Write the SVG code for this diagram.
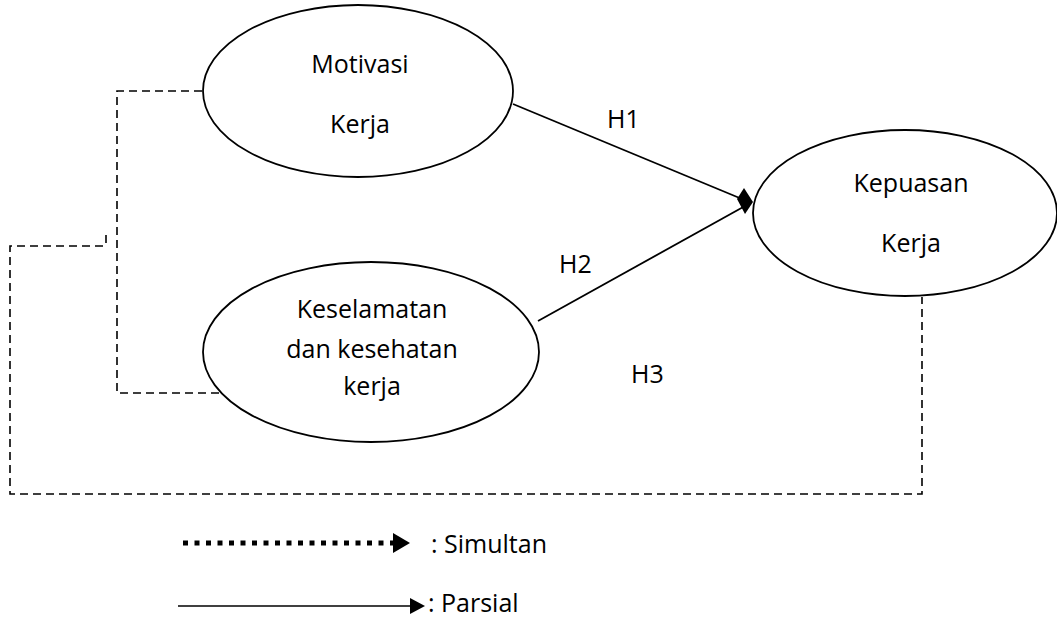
<svg xmlns="http://www.w3.org/2000/svg" width="1057" height="619" viewBox="0 0 1057 619">
<style>
.node{fill:#fff;stroke:#000;stroke-width:1.8}
.t{font-family:"Open Sans","Noto Sans",sans-serif;font-size:25px;fill:#000;text-anchor:middle}
.l{font-family:"Open Sans","Noto Sans",sans-serif;font-size:25px;fill:#000}
.dash{fill:none;stroke:#000;stroke-width:1.6;stroke-dasharray:8 5}
.solid{fill:none;stroke:#000;stroke-width:1.8}
</style>
<rect width="1057" height="619" fill="#fff"/>
<g id="connectors">
<path class="dash" d="M202,91 H117 V393 H226"/>
<path class="dash" d="M103,246 H10 V494 H922 V297"/>
<line x1="106" y1="235" x2="106" y2="243" stroke="#000" stroke-width="1.6"/>
<line class="solid" x1="513" y1="104" x2="742" y2="199"/>
<line class="solid" x1="538" y1="321" x2="745" y2="206"/>
<polygon points="737,199 744,188 753,202 745,214" fill="#000"/>
</g>
<g id="motivasi">
<ellipse class="node" cx="358" cy="91" rx="155" ry="86"/>
<text class="t" x="360" y="73">Motivasi</text>
<text class="t" x="360" y="133">Kerja</text>
</g>
<g id="keselamatan">
<ellipse class="node" cx="371" cy="352" rx="168" ry="90"/>
<text class="t" x="372" y="318">Keselamatan</text>
<text class="t" x="372" y="358">dan kesehatan</text>
<text class="t" x="372" y="395">kerja</text>
</g>
<g id="kepuasan">
<ellipse class="node" cx="905" cy="213" rx="152" ry="83"/>
<text class="t" x="911" y="192">Kepuasan</text>
<text class="t" x="911" y="252">Kerja</text>
</g>
<g id="labels">
<text class="l" x="607" y="128">H1</text>
<text class="l" x="559" y="273">H2</text>
<text class="l" x="631" y="383">H3</text>
</g>
<g id="legend">
<line x1="183" y1="543" x2="393" y2="543" stroke="#000" stroke-width="5" stroke-dasharray="5 6.5"/>
<polygon points="393,533 410,543 393,553" fill="#000"/>
<text class="l" x="431" y="553">: Simultan</text>
<line x1="178" y1="606" x2="412" y2="606" stroke="#000" stroke-width="1.3"/>
<polygon points="410,598 425,606 410,614" fill="#000"/>
<text class="l" x="428" y="612">: Parsial</text>
</g>
</svg>
